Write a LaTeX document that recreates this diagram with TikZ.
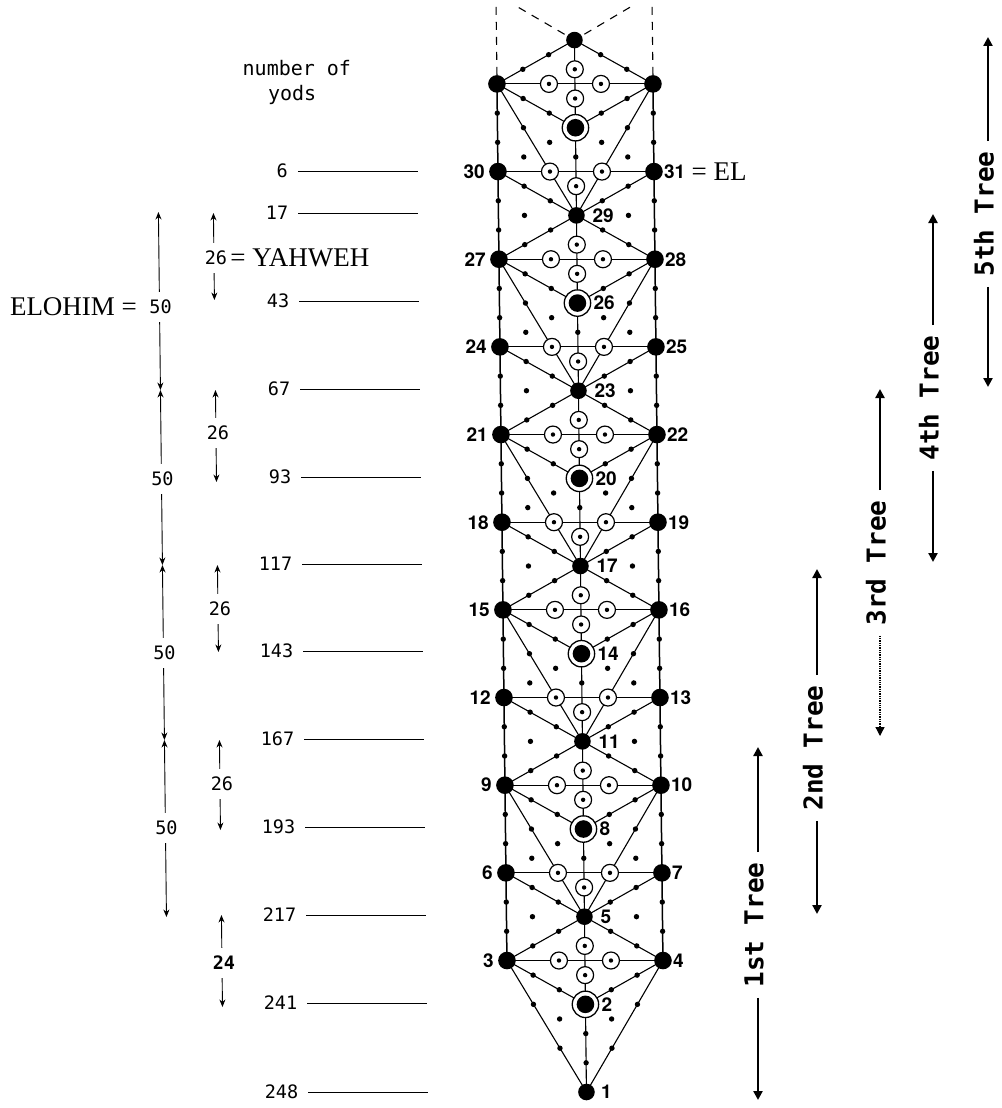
\documentclass[tikz,border=0pt]{standalone}
\usepackage{fontspec}
\setmainfont{Liberation Serif}
\newfontfamily\lblfont{TeX Gyre Heros}
\newfontfamily\typefont{DejaVu Sans Mono}
\usetikzlibrary{arrows.meta,calc}
\pgfdeclarelayer{backdrop}
\pgfdeclarelayer{bg}
\pgfsetlayers{backdrop,bg,main}
\begin{document}
\begin{tikzpicture}[x=1pt,y=-1pt,
  edge/.style={line width=1.1pt},
  pillarline/.style={line width=1.5pt},
  pnode/.style={circle,fill=black,inner sep=0pt,minimum size=17.6pt},
  cnode/.style={circle,fill=black,inner sep=0pt,minimum size=16.6pt},
  rnode/.style={circle,draw=black,line width=1.3pt,fill=white,inner sep=0pt,minimum size=26.4pt,
     path picture={\fill[black] (path picture bounding box.center) circle[radius=8.8pt];}},
  hnode/.style={circle,draw=black,line width=1.2pt,fill=white,inner sep=0pt,minimum size=17pt,
     path picture={\fill[black] (path picture bounding box.center) circle[radius=2.2pt];}},
  yod/.style={circle,fill=black,inner sep=0pt,minimum size=5.4pt},
  nlab/.style={font=\lblfont\bfseries\fontsize{19}{19}\selectfont,inner sep=0pt},
  ann/.style={font=\fontsize{27}{27}\selectfont,inner sep=0pt},
  cnt/.style={font=\typefont\fontsize{18.5}{18.5}\selectfont,inner sep=0pt},
  head/.style={font=\typefont\fontsize{20}{20}\selectfont,inner sep=0pt},
  lvl/.style={line width=0.8pt},
  thinarrow/.style={line width=0.9pt,-{Stealth[length=7.5pt,width=6pt]},shorten <=8pt},
  treearrow/.style={line width=2.4pt,-{Triangle[length=9pt,width=9pt]},shorten <=10pt},
  treelab/.style={font=\typefont\bfseries\fontsize{26}{26}\selectfont,inner sep=0pt,rotate=90},
]
\useasboundingbox (0,0) rectangle (1001,1108);
\begin{pgfonlayer}{backdrop}
\fill[white] (0,0) rectangle (1001,1108);
\end{pgfonlayer}

\begin{scope}[xslant=-0.0114]
% ---------- main nodes ----------
\foreach \l in {3,5,...,23} {
  \node[pnode] (L\l) at (496,{1092-43.83*\l}) {};
  \node[pnode] (R\l) at (652,{1092-43.83*\l}) {};
  \node[hnode] (hl\l) at (548,{1092-43.83*\l}) {};
  \node[hnode] (hr\l) at (600,{1092-43.83*\l}) {};
}
\foreach \l in {0,4,...,24} \node[cnode] (C\l) at (574,{1092-43.83*\l}) {};
\foreach \l in {2,6,...,22} \node[rnode] (C\l) at (574,{1092-43.83*\l}) {};
% centre hollow yods
\foreach \k in {0,...,5} {
  \node[hnode] (hca\k) at (574,{1092-43.83*(4*\k+2+2/3)}) {};
  \node[hnode] (hcb\k) at (574,{1092-43.83*(4*\k+2+4/3)}) {};
}
\foreach \k in {1,...,5} \node[hnode] (hd\k) at (574,{1092-43.83*(4*\k+2/3)}) {};
% isolated yods (centroids)
\foreach \k in {0,...,5} {
  \node[yod] (iaL\k) at (548,{1092-43.83*(4*\k+5/3)}) {};
  \node[yod] (iaR\k) at (600,{1092-43.83*(4*\k+5/3)}) {};
}
\foreach \k in {1,...,5} {
  \node[yod] (ibL\k) at (522,{1092-43.83*(4*\k)}) {};
  \node[yod] (ibR\k) at (626,{1092-43.83*(4*\k)}) {};
  \node[yod] (icL\k) at (522,{1092-43.83*(4*\k+4/3)}) {};
  \node[yod] (icR\k) at (626,{1092-43.83*(4*\k+4/3)}) {};
}

% ---------- connectors ----------
\begin{pgfonlayer}{bg}
\foreach \l in {3,5,...,21} {
  \pgfmathtruncatemacro\lu{\l+2}
  \draw[pillarline] (L\l.center) -- node[yod,pos=1/3] (pyL\l a) {} node[yod,pos=2/3] (pyL\l b) {} (L\lu.center);
  \draw[pillarline] (R\l.center) -- node[yod,pos=1/3] (pyR\l a) {} node[yod,pos=2/3] (pyR\l b) {} (R\lu.center);
}
\foreach \l in {3,5,...,23} \draw[edge] (L\l.center) -- (R\l.center);
% centre column
\draw[edge] (C0.center) -- node[yod,pos=1/3] (cy0a) {} node[yod,pos=2/3] (cy0b) {} (C2.center);
\foreach \k in {1,...,5} {
  \pgfmathtruncatemacro\ka{4*\k}
  \pgfmathtruncatemacro\kb{4*\k+2}
  \draw[edge] (C\ka.center) -- node[yod,pos=2/3] (cy\k) {} (C\kb.center);
}
\foreach \k in {0,...,5} {
  \pgfmathtruncatemacro\ka{4*\k+2}
  \pgfmathtruncatemacro\kb{4*\k+4}
  \draw[edge] (C\ka.center) -- (C\kb.center);
}
% long diagonals
\foreach \k in {0,...,5} {
  \pgfmathtruncatemacro\ka{4*\k}
  \pgfmathtruncatemacro\kb{4*\k+3}
  \draw[edge] (C\ka.center) -- node[yod,pos=2/3] (ldL\k) {} (L\kb.center);
  \draw[edge] (C\ka.center) -- node[yod,pos=2/3] (ldR\k) {} (R\kb.center);
}
\node[yod] (ldL0a) at ($(C0)!1/3!(L3)$) {};
\node[yod] (ldR0a) at ($(C0)!1/3!(R3)$) {};
% short diagonals
\foreach \k in {1,...,6} {
  \pgfmathtruncatemacro\ka{4*\k}
  \pgfmathtruncatemacro\kb{4*\k-1}
  \draw[edge] (C\ka.center) -- node[yod,pos=1/3] (sdL\k a) {} node[yod,pos=2/3] (sdL\k b) {} (L\kb.center);
  \draw[edge] (C\ka.center) -- node[yod,pos=1/3] (sdR\k a) {} node[yod,pos=2/3] (sdR\k b) {} (R\kb.center);
}
\foreach \k in {1,...,5} {
  \pgfmathtruncatemacro\ka{4*\k}
  \pgfmathtruncatemacro\kb{4*\k+1}
  \draw[edge] (C\ka.center) -- node[yod,pos=1/3] (suL\k a) {} node[yod,pos=2/3] (suL\k b) {} (L\kb.center);
  \draw[edge] (C\ka.center) -- node[yod,pos=1/3] (suR\k a) {} node[yod,pos=2/3] (suR\k b) {} (R\kb.center);
}
\foreach \k in {0,...,5} {
  \pgfmathtruncatemacro\ka{4*\k+2}
  \pgfmathtruncatemacro\kb{4*\k+3}
  \draw[edge] (C\ka.center) -- node[yod,pos=1/3] (syL\k a) {} node[yod,pos=2/3] (syL\k b) {} (L\kb.center);
  \draw[edge] (C\ka.center) -- node[yod,pos=1/3] (syR\k a) {} node[yod,pos=2/3] (syR\k b) {} (R\kb.center);
}
% dashed continuation
\coordinate (dL) at (496,0);
\coordinate (dR) at (652,0);
\coordinate (dgL) at (516,6);
\coordinate (dgR) at (632,6);
\draw[edge,dash pattern=on 8pt off 7pt] (L23.north) -- (dL);
\draw[edge,dash pattern=on 8pt off 7pt] (R23.north) -- (dR);
\draw[edge,dash pattern=on 8pt off 7pt,shorten <=3pt] (C24) -- (dgL);
\draw[edge,dash pattern=on 8pt off 7pt,shorten <=3pt] (C24) -- (dgR);
\end{pgfonlayer}

% ---------- node labels ----------
\node[nlab] (n1) at ([xshift=20pt]C0.center) {1};
\foreach \l in {3,5,...,21} {
  \pgfmathtruncatemacro\nl{3*(\l-1)/2}
  \pgfmathtruncatemacro\nr{3*(\l-1)/2+1}
  \node[nlab,anchor=east,xshift=-13pt] (n\nl) at (L\l.center) {\nl};
  \node[nlab,anchor=west,xshift=10pt] (n\nr) at (R\l.center) {\nr};
}
\foreach \l in {2,4,...,20} {
  \pgfmathtruncatemacro\nc{3*\l/2-1}
  \node[nlab,anchor=west,xshift=16pt] (n\nc) at (C\l.center) {\nc};
}
\node[ann,anchor=west,xshift=6pt] (el) at (n31.east) {= EL};

% ---------- yod counts ----------
\node[head,anchor=base] (hd1) at (296,75) {number of};
\node[head,anchor=base] (hd2) at (291,100) {yods};
\foreach \i/\y/\v in {1/171/6,2/213/17,3/301/43,4/389/67,5/477/93,6/564/117,7/651/143,8/739/167,9/827/193,10/915/217,11/1003/241,12/1092/248} {
  \node[cnt,anchor=east] (num\i) at (286,\y) {\v};
  \coordinate (la\i) at (296,\y);
  \coordinate (lb\i) at (416,\y);
  \draw[lvl] (la\i) -- (lb\i);
}
% 50 arrows
\foreach \i/\t/\c/\b in {1/212/307/390,2/390/479/565,3/565/653/740,4/740/828/917} {
  \coordinate (fa\i) at (156,\t);
  \coordinate (fb\i) at (156,\b);
  \node[cnt] (f\i) at (157,\c) {50};
  \draw[thinarrow] (f\i.north -| fa\i) -- (fa\i);
  \draw[thinarrow] (f\i.south -| fb\i) -- (fb\i);
}
\node[ann,anchor=east,xshift=-12pt] (elohim) at (f1.west) {ELOHIM =};
% 26 arrows
\foreach \i/\t/\c/\b/\v in {1/213/258/300/26,2/390/433/482/26,3/565/609/652/26,4/740/784/830/26,5/915/963/1007/{\bfseries 24}} {
  \coordinate (ga\i) at (211,\t);
  \coordinate (gb\i) at (211,\b);
  \node[cnt] (g\i) at (213,\c) {\v};
  \draw[thinarrow] (g\i.north -| ga\i) -- (ga\i);
  \draw[thinarrow] (g\i.south -| gb\i) -- (gb\i);
}
\node[ann,anchor=west,xshift=3pt] (yahweh) at (g1.east) {= YAHWEH};
\end{scope}

% ---------- tree spans ----------
\foreach \i/\x/\t/\c/\b/\txt in {1/758/747/925/1100/1st,2/817/569/748/914/2nd,3/880/389/563/736/3rd,4/933/214/398/562/4th,5/988/37/214/387/5th} {
  \coordinate (tt\i) at (\x,\t);
  \coordinate (tb\i) at (\x,\b);
  \node[treelab] (tl\i) at ({\x-4},\c) {\txt\ Tree};
  \draw[treearrow] (tl\i.east -| tt\i) -- (tt\i);
  \ifnum\i=3
    \draw[treearrow,line width=1.3pt,densely dotted] (tl\i.west -| tb\i) -- (tb\i);
  \else
    \draw[treearrow] (tl\i.west -| tb\i) -- (tb\i);
  \fi
}
\end{tikzpicture}
\end{document}
